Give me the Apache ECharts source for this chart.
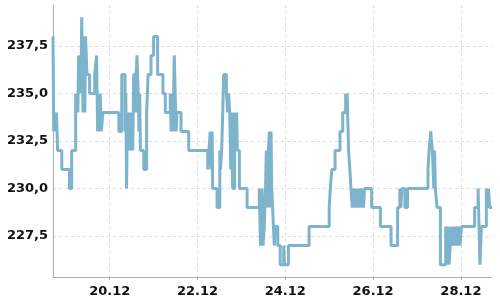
<!DOCTYPE html>
<html>
<head>
<meta charset="utf-8">
<script src="https://cdn.jsdelivr.net/npm/echarts@6/dist/echarts.min.js"></script>
<style>
html,body{margin:0;padding:0;background:#fff;}
#chart{width:500px;height:300px;}
</style>
</head>
<body>
<div id="chart"></div>
<script>
// price changes: hours since 18.12 17:00, and the new value at that hour
const startTime = Date.UTC(2020, 11, 18, 17, 0, 0);
const changeHours = [
  0,0.4,0.7,1.6,1.9,2.5,4.8,9,10.2,
  12.4,12.8,13.2,13.6,14.0,14.4,14.8,15.2,15.7,16.4,16.8,17.4,17.8,18.6,20.0,22.8,23.8,24.4,24.8,25.3,25.8,26.4,27.3,36.0,37.6,
  39.4,39.8,40.2,40.6,41.0,41.5,42.0,42.5,43.0,43.6,44.1,45.2,45.5,45.9,46.6,47.0,47.4,47.8,49.6,51.2,51.6,52.0,53.6,55.0,57.2,60.1,61.4,64.1,64.6,65.1,65.6,66.3,66.8,67.3,67.8,70.0,74.2,
  84.6,85.3,85.9,86.5,87.0,87.3,89.7,91.2,91.6,92.2,92.8,93.3,94.8,95.5,96.0,96.6,97.2,97.6,98.2,99.3,99.8,100.4,100.8,101.9,106.1,112.8,113.4,114.3,114.8,115.5,116.2,116.6,117.2,117.7,118.3,118.8,119.2,119.6,
  120.5,121.0,121.4,122.9,124.2,126.1,126.6,128.7,140.0,151.0,151.6,152.4,154.2,156.9,158.4,160.0,160.4,160.8,161.6,162.3,162.9,163.6,164.1,164.6,165.2,165.8,166.4,167.2,167.8,168.5,169.2,169.8,170.3,174.2,179.0,184.8,188.4,189.6,190.2,190.7,192.4,193.8,
  205.0,205.6,206.5,207.4,208.2,208.6,209.0,210.0,211.8,214.7,215.3,216.0,216.5,217.2,217.8,218.5,219.2,219.8,220.5,221.2,221.8,222.5,223.3,230.5,232.4,233.4,234.2,236.9,237.5,238.1,238.7,240
];
const changeValues = [
  238,233,234,233,234,232,231,230,232,
  235,234,235,234,237,236,237,235,239,234,238,234,238,236,235,236,237,233,235,233,235,233,234,233,236,
  233,235,230,233,232,234,232,233,234,232,236,234,236,237,235,233,235,232,231,234,235,236,237,238,236,235,234,235,233,235,233,237,235,233,234,233,232,
  231,232,233,231,233,230,229,232,231,232,234,236,235,234,235,234,231,234,230,234,233,234,232,230,229,230,227,230,227,228,230,232,229,232,233,229,233,230,
  228,227,228,227,226,227,226,227,228,229,230,231,232,233,234,235,234,235,232,231,230,229,230,229,230,229,230,229,230,229,230,229,230,229,228,227,229,230,229,230,229,230,
  231,232,233,232,230,232,230,229,226,228,226,228,226,227,228,227,228,227,228,227,228,227,228,229,230,226,228,230,229,230,229,229
];
const xTickDays = [20, 22, 24, 26, 28];
const yTickValues = [227.5, 230, 232.5, 235, 237.5];
const yMin = 225.35, yMax = 239.65;

const seriesData = changeHours.map((h, i) => [startTime + h * 3600000, changeValues[i]]);
const xTicks = xTickDays.map(d => Date.UTC(2020, 11, d, 0, 0, 0));

const chart = echarts.init(document.getElementById('chart'), null, {renderer: 'canvas'});
const labelFont = {fontFamily: 'DejaVu Sans', fontSize: 13, fontWeight: 'bold', color: '#111'};
chart.setOption({
  animation: false,
  backgroundColor: '#fff',
  grid: {left: 53, right: 8, top: 5, bottom: 23, containLabel: false},
  xAxis: {
    type: 'value',
    min: startTime,
    max: startTime + changeHours[changeHours.length - 1] * 3600000,
    axisLine: {show: true, lineStyle: {color: '#b0b0b0', width: 1}},
    axisTick: {show: true, length: 3, customValues: xTicks, lineStyle: {color: '#b0b0b0'}},
    axisLabel: Object.assign({
      customValues: xTicks,
      margin: 8,
      formatter: function (val) {
        const d = new Date(val);
        const dd = String(d.getUTCDate()).padStart(2, '0');
        const mm = String(d.getUTCMonth() + 1).padStart(2, '0');
        return dd + '.' + mm;
      }
    }, labelFont),
    splitLine: {show: true, lineStyle: {color: '#dcdcdc', type: [3, 3], width: 1}}
  },
  yAxis: {
    type: 'value',
    min: yMin,
    max: yMax,
    axisLine: {show: true, lineStyle: {color: '#b0b0b0', width: 1}},
    axisTick: {show: false, customValues: yTickValues},
    axisLabel: Object.assign({
      customValues: yTickValues,
      margin: 5,
      formatter: function (v) { return v.toFixed(1).replace('.', ','); }
    }, labelFont),
    splitLine: {show: true, lineStyle: {color: '#dcdcdc', type: [3, 3], width: 1}}
  },
  series: [{
    type: 'line',
    step: 'end',
    data: seriesData,
    showSymbol: false,
    symbol: 'none',
    sampling: null,
    lineStyle: {color: '#7db4cc', width: 3},
    itemStyle: {color: '#7db4cc'}
  }]
});
</script>
</body>
</html>
